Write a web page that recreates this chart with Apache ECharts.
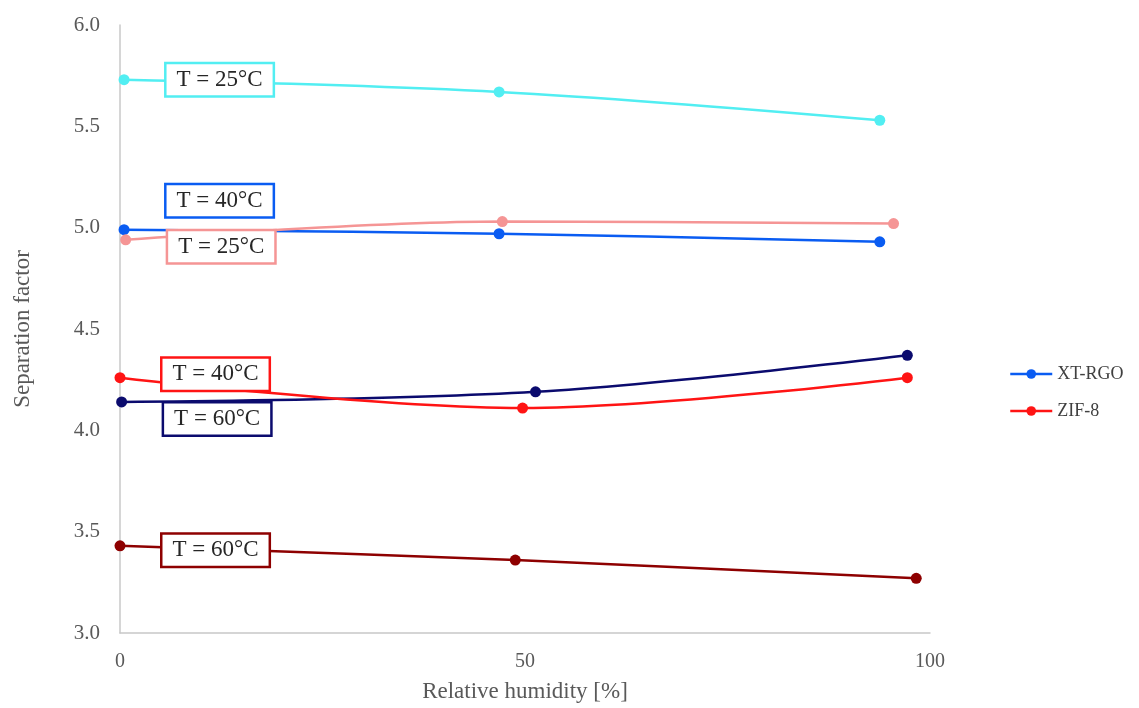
<!DOCTYPE html>
<html>
<head>
<meta charset="utf-8">
<title>Separation factor vs relative humidity</title>
<script src="https://cdn.jsdelivr.net/npm/echarts@6/dist/echarts.min.js"></script>
<style>
  html, body { margin: 0; padding: 0; background: #ffffff; }
  #chart { width: 1139px; height: 708px; }
</style>
</head>
<body>
<div id="chart"></div>
<script>
// Membrane materials and test temperatures
const materials = ['XT-RGO', 'ZIF-8'];
const tempLabels = ['T = 25°C', 'T = 40°C', 'T = 60°C'];

// Relative humidity [%] of each measurement
const rhXT25 = [0.5, 46.8, 93.8];
const rhXT40 = [0.5, 46.8, 93.8];
const rhXT60 = [0.2, 51.3, 97.2];
const rhZIF25 = [0.7, 47.2, 95.5];
const rhZIF40 = [0.0, 49.7, 97.2];
const rhZIF60 = [0.0, 48.8, 98.3];

// Separation factor at each measurement
const sfXT25 = [5.73, 5.67, 5.53];
const sfXT40 = [4.99, 4.97, 4.93];
const sfXT60 = [4.14, 4.19, 4.37];
const sfZIF25 = [4.94, 5.03, 5.02];
const sfZIF40 = [4.26, 4.11, 4.26];
const sfZIF60 = [3.43, 3.36, 3.27];

// Axis ticks
const xTicks = [0, 50, 100];
const yTicks = [3.0, 3.5, 4.0, 4.5, 5.0, 5.5, 6.0];

const SERIF = '"Liberation Serif", "DejaVu Serif", serif';

// One entry per curve: data, material, temperature label and drawing style
const curves = [
  { mat: 0, t: 1, x: rhXT40,  y: sfXT40,  color: '#0A5CF2', dy: -29 },
  { mat: 0, t: 0, x: rhXT25,  y: sfXT25,  color: '#52EEF2', dy: 0 },
  { mat: 0, t: 2, x: rhXT60,  y: sfXT60,  color: '#0B0B6E', dy: 17 },
  { mat: 1, t: 1, x: rhZIF40, y: sfZIF40, color: '#FF1414', dy: -3.5 },
  { mat: 1, t: 0, x: rhZIF25, y: sfZIF25, color: '#F59595', dy: 7 },
  { mat: 1, t: 2, x: rhZIF60, y: sfZIF60, color: '#8E0000', dy: 4.5 }
];

function buildSeries(c) {
  const data = c.x.map(function (xv, i) {
    const item = { value: [xv, c.y[i]] };
    if (i === 0) {
      item.label = {
        show: true,
        position: 'right',
        distance: 37,
        formatter: tempLabels[c.t],
        fontFamily: SERIF,
        fontSize: 23,
        lineHeight: 25,
        color: '#262626',
        backgroundColor: '#ffffff',
        borderColor: c.color,
        borderWidth: 2.5,
        padding: [3, 10, 3, 10]
      };
    }
    return item;
  });
  return {
    type: 'line',
    name: materials[c.mat],
    data: data,
    smooth: 0.35,
    symbol: 'circle',
    symbolSize: 11,
    showSymbol: true,
    lineStyle: { color: c.color, width: 2.5 },
    itemStyle: { color: c.color },
    emphasis: { disabled: true },
    labelLayout: { dy: c.dy, hideOverlap: false, moveOverlap: null },
    z: 2
  };
}

const chart = echarts.init(document.getElementById('chart'), null, { renderer: 'canvas' });

chart.setOption({
  animation: false,
  backgroundColor: '#ffffff',
  grid: { left: 120, right: 209, top: 25, bottom: 75, containLabel: false, outerBoundsMode: 'none' },
  legend: {
    orient: 'vertical',
    left: 1004,
    top: 360,
    padding: 5,
    itemWidth: 42,
    itemHeight: 12,
    itemGap: 19,
    textStyle: { fontFamily: SERIF, fontSize: 18, color: '#404040' },
    data: [
      { name: materials[0], itemStyle: { color: '#0A5CF2' }, lineStyle: { color: '#0A5CF2', width: 2.5 } },
      { name: materials[1], itemStyle: { color: '#FF1414' }, lineStyle: { color: '#FF1414', width: 2.5 } }
    ]
  },
  xAxis: {
    type: 'value',
    min: xTicks[0],
    max: xTicks[xTicks.length - 1],
    interval: xTicks[1] - xTicks[0],
    name: 'Relative humidity [%]',
    nameLocation: 'middle',
    nameGap: 47,
    nameTextStyle: { fontFamily: SERIF, fontSize: 23, color: '#595959' },
    axisLine: { show: true, onZero: false, lineStyle: { color: '#c8c8c8', width: 1.5 } },
    axisTick: { show: false },
    splitLine: { show: false },
    axisLabel: { fontFamily: SERIF, fontSize: 20, color: '#595959', margin: 19 }
  },
  yAxis: {
    type: 'value',
    min: yTicks[0],
    max: yTicks[yTicks.length - 1],
    interval: yTicks[1] - yTicks[0],
    name: 'Separation factor',
    nameLocation: 'middle',
    nameGap: 86,
    nameTextStyle: { fontFamily: SERIF, fontSize: 23, color: '#595959' },
    axisLine: { show: true, lineStyle: { color: '#c8c8c8', width: 1.5 } },
    axisTick: { show: false },
    splitLine: { show: false },
    axisLabel: {
      fontFamily: SERIF, fontSize: 21, color: '#595959', margin: 20,
      formatter: function (v) { return v.toFixed(1); }
    }
  },
  series: curves.map(buildSeries)
});
</script>
</body>
</html>
